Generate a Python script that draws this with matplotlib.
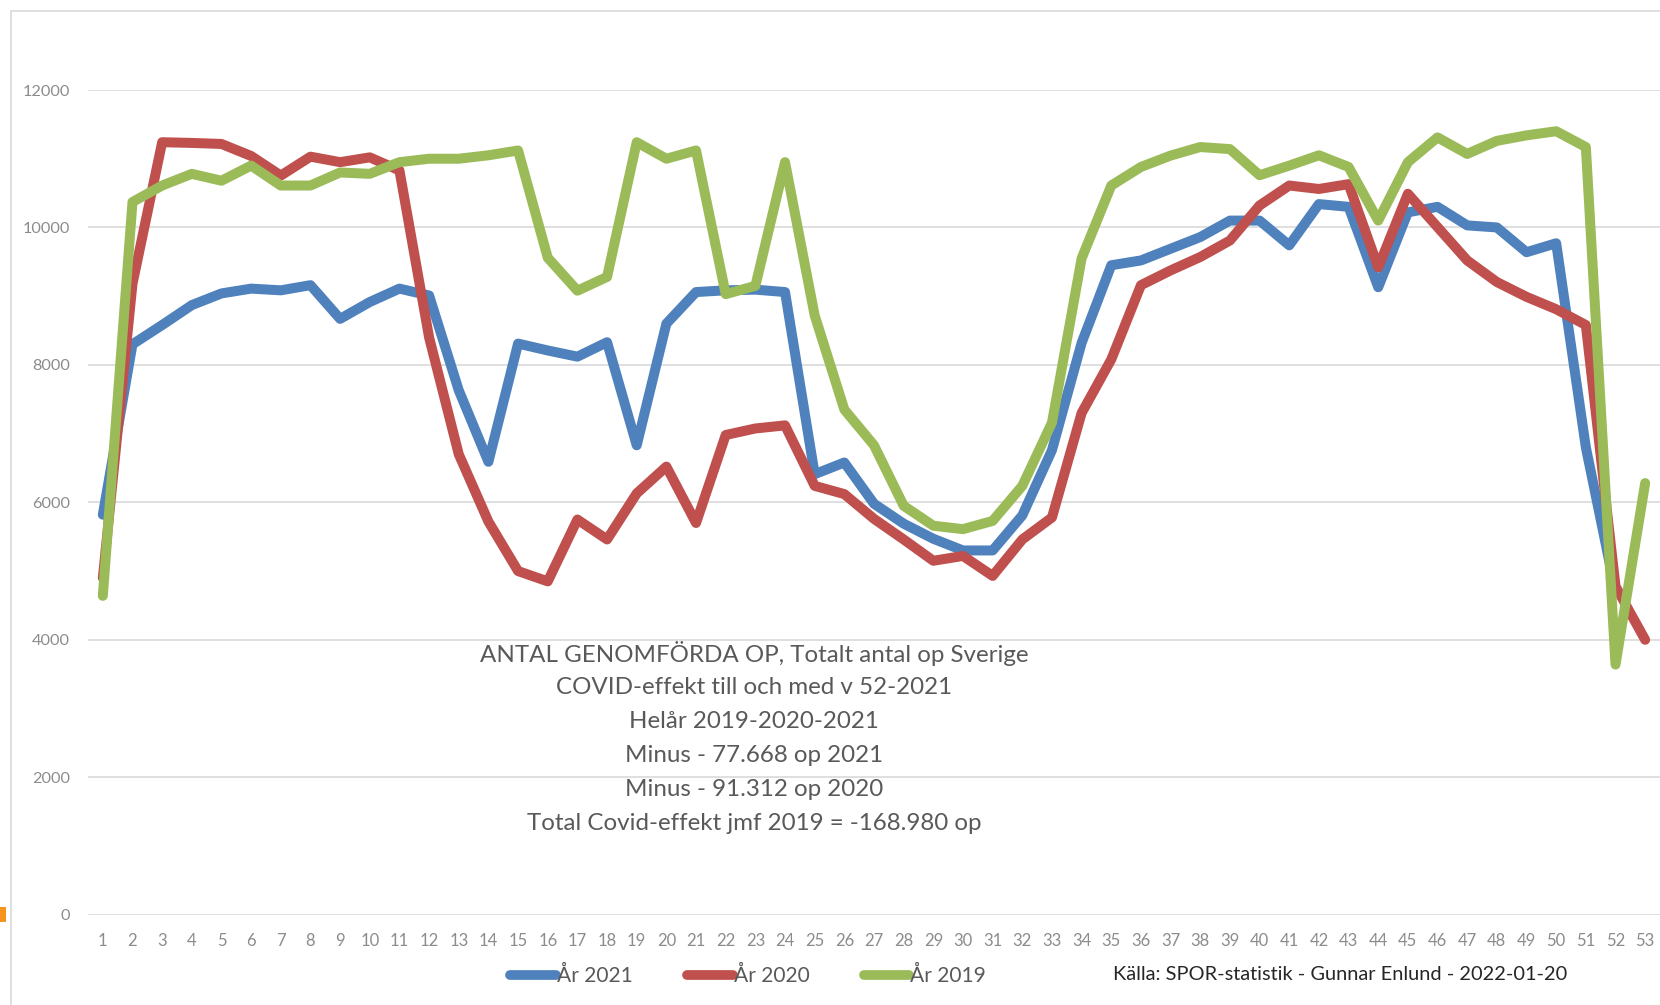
import matplotlib
matplotlib.use("Agg")
import matplotlib.pyplot as plt
from matplotlib.patches import Rectangle

plt.rcParams["font.family"] = ["Lato", "DejaVu Sans"]

# weekly number of operations
weeks = list(range(1, 54))

ar_2021 = [5820, 8300, 8580, 8870, 9040, 9110, 9085, 9160, 8670, 8915,
           9110, 9010, 7630, 6590, 8310, 8210, 8120, 8330, 6830, 8600,
           9060, 9085, 9095, 9060, 6410, 6580, 5980, 5690, 5470, 5300,
           5300, 5810, 6760, 8320, 9450, 9520, 9690, 9860, 10100, 10100,
           9740, 10340, 10300, 9130, 10220, 10300, 10030, 10000, 9640, 9770,
           6800, 4700]

ar_2020 = [4900, 9180, 11240, 11230, 11215, 11040, 10755, 11030, 10950, 11020,
           10830, 8400, 6700, 5720, 5000, 4850, 5750, 5460, 6130, 6520,
           5700, 6980, 7075, 7120, 6240, 6120, 5760, 5460, 5150, 5220,
           4930, 5460, 5780, 7300, 8080, 9160, 9375, 9570, 9810, 10320,
           10610, 10560, 10630, 9420, 10490, 10005, 9520, 9206, 8990, 8810,
           8580, 4780, 4000]

ar_2019 = [4640, 10370, 10610, 10780, 10680, 10900, 10610, 10610, 10800, 10780,
           10950, 11000, 11000, 11050, 11120, 9560, 9080, 9280, 11240, 11000,
           11120, 9030, 9150, 10950, 8720, 7350, 6830, 5950, 5660, 5610,
           5730, 6240, 7160, 9550, 10610, 10880, 11046, 11170, 11140, 10760,
           10900, 11050, 10880, 10100, 10950, 11310, 11070, 11260, 11340, 11400,
           11170, 3640, 6280]

series_labels = ["År 2021", "År 2020", "År 2019"]
series_colors = ["#4f81bd", "#c0504d", "#9bbb59"]

yticks = [0, 2000, 4000, 6000, 8000, 10000, 12000]

info_lines = [
    "ANTAL GENOMFÖRDA OP, Totalt antal op Sverige",
    "COVID-effekt till och med v 52-2021",
    "Helår 2019-2020-2021",
    "Minus - 77.668 op 2021",
    "Minus - 91.312 op 2020",
    "Total Covid-effekt jmf 2019 = -168.980 op",
]
source = "Källa: SPOR-statistik - Gunnar Enlund - 2022-01-20"

W, H = 1660, 1005
fig = plt.figure(figsize=(W / 100, H / 100), dpi=100)
fig.patch.set_facecolor("white")

# chart frame and the small orange mark at the left edge
fig.patches.append(Rectangle((11 / W, -0.02), 1.02, 1 - 11 / H + 0.02,
                             transform=fig.transFigure, fill=False,
                             edgecolor="#d9d9d9", lw=1.2))
fig.patches.append(Rectangle((0, 1 - 922 / H), 6 / W, 15 / H,
                             transform=fig.transFigure, color="#f7941d", lw=0))

ax = fig.add_axes([88 / W, 1 - 914.7 / H, 1 - 88 / W, (914.7 - 90) / H])

for data, lab, col in zip([ar_2021, ar_2020, ar_2019], series_labels, series_colors):
    ax.plot(weeks[:len(data)], data, color=col, lw=7.2, label=lab,
            solid_capstyle="round", solid_joinstyle="round", clip_on=False)

ax.set_xlim(0.5, 53.5)
ax.set_ylim(0, 12000)
ax.set_xticks(weeks)
ax.set_yticks(yticks)
ax.tick_params(axis="both", length=0)
ax.tick_params(axis="x", pad=13, labelsize=12, labelcolor="#8c8c8c")
ax.tick_params(axis="y", pad=13, labelsize=11.7, labelcolor="#8c8c8c")
ax.grid(axis="y", color="#d9d9d9", lw=1.2)
ax.set_axisbelow(True)
for s in ax.spines.values():
    s.set_visible(False)

# text block in the middle of the chart
for i, line in enumerate(info_lines):
    fig.text(754 / W, 1 - (654 + i * 33.8) / H, line, ha="center", va="center",
             fontsize=17.4, color="#595959")

leg = fig.legend(loc="center left", bbox_to_anchor=(510 / W, 1 - 976 / H),
                 bbox_transform=fig.transFigure, ncol=3, frameon=False,
                 fontsize=15, handlelength=2.2, handletextpad=0.05,
                 columnspacing=2.6, borderpad=0, borderaxespad=0)
for t in leg.get_texts():
    t.set_color("#595959")
for h in leg.get_lines():
    h.set_linewidth(7)
    h.set_solid_capstyle("round")

fig.text(1113 / W, 1 - 974 / H, source, ha="left", va="center",
         fontsize=14.4, color="#262626")

fig.savefig("out.png", dpi=100)
